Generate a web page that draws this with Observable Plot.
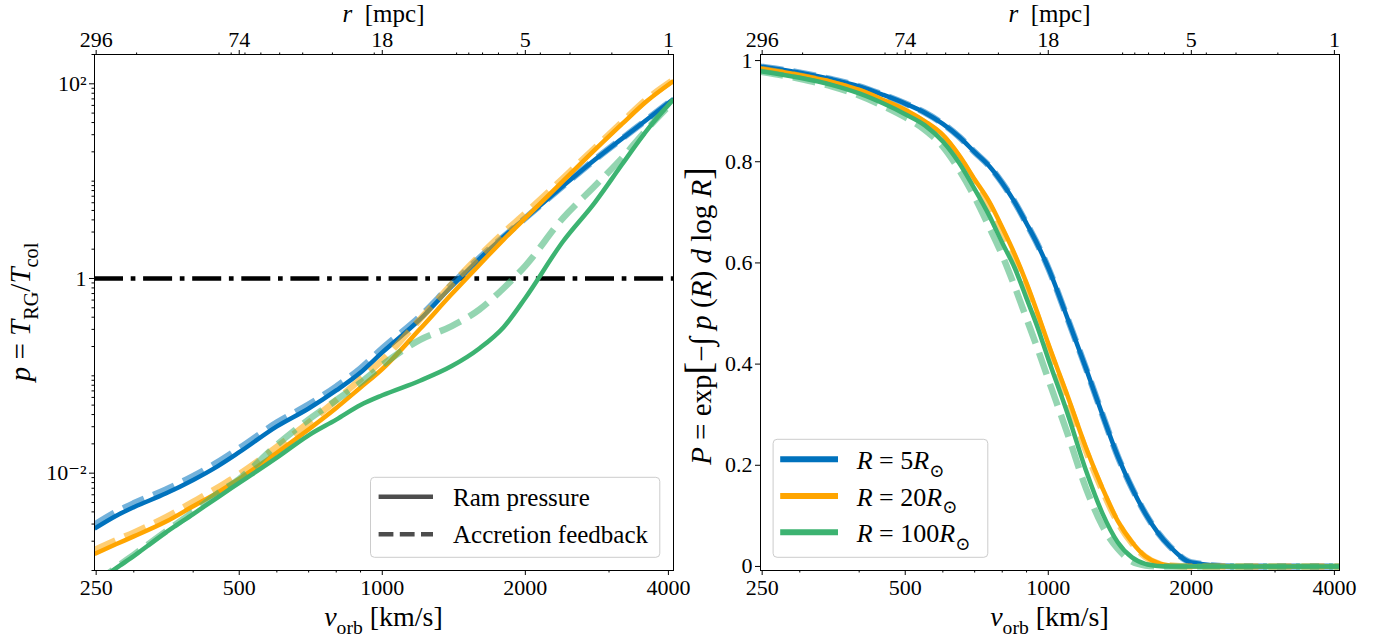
<!DOCTYPE html>
<html><head><meta charset="utf-8">
<script src="https://cdn.jsdelivr.net/npm/d3@7"></script>
<script src="https://cdn.jsdelivr.net/npm/@observablehq/plot@0.6"></script>
<style>
body{margin:0;background:#fff;}
#wrap{position:relative;width:1387px;height:637px;overflow:hidden;background:#fff;}
#wrap svg{position:absolute;top:0;}
#wrap svg text{font-family:'Liberation Serif','DejaVu Serif',serif;}
</style></head><body><div id="wrap"></div>
<script>
// ---------- data ----------
// orbital velocity grid (km/s) for the left panel
const vLeft = [248, 275, 300, 350, 400, 450, 500, 600, 700, 800, 900, 1000, 1200, 1400, 1600, 1800, 2000, 2400, 2800, 3200, 3600, 4100];
// p = T_RG / T_col, ram pressure (solid) and accretion feedback (dashed)
const pBlueRam   = [2.69e-3, 3.63e-3, 4.47e-3, 6.17e-3, 8.51e-3, 0.01175, 0.0164, 0.0302, 0.0462, 0.0708, 0.108, 0.174, 0.380, 0.832, 1.585, 2.69, 4.17, 8.91, 16.6, 27.5, 42.7, 70.0];
const pBlueAcc   = [2.95e-3, 3.98e-3, 4.90e-3, 6.76e-3, 9.33e-3, 0.0129, 0.0180, 0.0331, 0.0507, 0.0776, 0.119, 0.191, 0.407, 0.871, 1.62, 2.69, 4.17, 8.91, 16.6, 27.5, 42.7, 70.0];
const pOrangeRam = [1.48e-3, 1.86e-3, 2.24e-3, 3.16e-3, 4.57e-3, 6.31e-3, 8.71e-3, 0.0162, 0.0282, 0.0468, 0.0759, 0.1175, 0.302, 0.692, 1.38, 2.51, 4.17, 10.0, 20.9, 38.9, 66.1, 107];
const pOrangeAcc = [1.62e-3, 2.04e-3, 2.45e-3, 3.51e-3, 5.07e-3, 7.08e-3, 9.77e-3, 0.0186, 0.0331, 0.0562, 0.0923, 0.145, 0.380, 0.871, 1.70, 2.95, 4.68, 10.7, 21.9, 40.7, 69.2, 110];
const pGreenRam  = [7.24e-4, 1.05e-3, 1.41e-3, 2.45e-3, 3.80e-3, 5.62e-3, 7.94e-3, 0.01445, 0.0245, 0.0355, 0.0501, 0.0631, 0.0891, 0.126, 0.191, 0.316, 0.631, 2.40, 6.03, 15.0, 33.1, 69.2];
const pGreenAcc  = [7.24e-4, 1.07e-3, 1.45e-3, 2.51e-3, 3.98e-3, 6.17e-3, 8.71e-3, 0.0195, 0.0355, 0.0562, 0.0851, 0.129, 0.234, 0.324, 0.479, 0.794, 1.35, 4.17, 8.91, 17.4, 33.9, 66.1];

// velocity grid for the right panel
const vRight = [248, 300, 350, 400, 450, 500, 550, 600, 650, 700, 750, 800, 850, 900, 950, 1000, 1100, 1200, 1300, 1400, 1500, 1600, 1700, 1800, 2000, 2500, 3000, 4100];
// survival probability P
const PBlueRam   = [0.988, 0.976, 0.963, 0.949, 0.932, 0.915, 0.897, 0.875, 0.849, 0.819, 0.792, 0.758, 0.72, 0.678, 0.636, 0.59, 0.488, 0.392, 0.30, 0.218, 0.155, 0.105, 0.067, 0.040, 0.008, 0, 0, 0];
const PBlueAcc   = [0.988, 0.976, 0.963, 0.949, 0.932, 0.915, 0.897, 0.875, 0.849, 0.819, 0.792, 0.758, 0.72, 0.678, 0.636, 0.59, 0.488, 0.392, 0.30, 0.218, 0.155, 0.105, 0.067, 0.040, 0.008, 0, 0, 0];
const POrangeRam = [0.984, 0.971, 0.958, 0.942, 0.922, 0.903, 0.88, 0.853, 0.812, 0.765, 0.722, 0.67, 0.617, 0.56, 0.50, 0.44, 0.335, 0.235, 0.155, 0.09, 0.048, 0.02, 0.007, 0.002, 0, 0, 0, 0];
const POrangeAcc = [0.983, 0.97, 0.956, 0.94, 0.92, 0.9, 0.877, 0.85, 0.808, 0.76, 0.716, 0.664, 0.61, 0.553, 0.493, 0.433, 0.328, 0.229, 0.15, 0.087, 0.046, 0.019, 0.006, 0.002, 0, 0, 0, 0];
const PGreenRam  = [0.979, 0.966, 0.952, 0.935, 0.915, 0.894, 0.872, 0.84, 0.797, 0.746, 0.695, 0.64, 0.59, 0.53, 0.472, 0.41, 0.30, 0.19, 0.105, 0.048, 0.018, 0.005, 0.001, 0, 0, 0, 0, 0];
const PGreenAcc  = [0.978, 0.964, 0.949, 0.931, 0.91, 0.888, 0.863, 0.83, 0.783, 0.73, 0.672, 0.615, 0.553, 0.49, 0.43, 0.37, 0.26, 0.155, 0.08, 0.035, 0.01, 0.002, 0, 0, 0, 0, 0, 0];

// axis ticks
const vMajor = [250, 500, 1000, 2000, 4000];
const vMinor = [300, 400, 600, 700, 800, 900, 3000];
const rLabels = ["296", "74", "18", "5", "1"];           // r [mpc] at the major velocity ticks
const rMinor = [200, 90, 80, 70, 60, 50, 40, 30, 20, 9, 8, 7, 6, 5, 4, 3, 2];
const rRef = 296, vRef = 250;                             // r = rRef (vRef/v)^2
const pMajor = [1e-2, 1, 1e2];
const pMajorLabels = ["10⁻²", "1", "10²"];
const pMinorMant = [1, 2, 3, 4, 5, 6, 7, 8, 9];
const pMinorExp = [-3, -2, -1, 0, 1, 2];
const PTicks = [0, 0.2, 0.4, 0.6, 0.8, 1];
const radiusLabels = ["5", "20", "100"];
const mechLabels = ["Ram pressure", "Accretion feedback"];

// ---------- style ----------
const FONT = "'Liberation Serif', 'DejaVu Serif', serif";
const COLORS = ["#0072BD", "#FFA500", "#3CB371"];
const SOLID_W = 4.5, DASH_W = 6.5, DASH_OP = 0.55, DASH = "23,10";

const rows = (vs, ys) => vs.map((v, i) => ({v, y: ys[i]}));
const vOfR = r => vRef * Math.sqrt(rRef / r);
const pMinor = pMinorExp.flatMap(e => pMinorMant.map(m => m * Math.pow(10, e)))
  .filter(d => d <= 200 && !pMajor.some(M => Math.abs(M - d) / M < 1e-9));
const rLabelOf = new Map(vMajor.map((v, i) => [v, rLabels[i]]));
const pLabelOf = new Map(pMajor.map((p, i) => [p, pMajorLabels[i]]));

function seriesMarks(vs, ramArr, accArr, clip) {
  const marks = [];
  ramArr.forEach((ram, k) => {
    marks.push(Plot.line(rows(vs, ram), {x: "v", y: "y", stroke: COLORS[k], strokeWidth: SOLID_W, curve: "monotone-x", clip, strokeLinecap: "butt"}));
    marks.push(Plot.line(rows(vs, accArr[k]), {x: "v", y: "y", stroke: COLORS[k], strokeWidth: DASH_W, strokeOpacity: DASH_OP, strokeDasharray: DASH, curve: "monotone-x", clip, strokeLinecap: "butt"}));
  });
  return marks;
}

function xAxes() {
  return [
    Plot.axisX({ticks: vMajor, tickFormat: d => String(d), tickSize: 5, tickPadding: 4, label: null}),
    Plot.axisX({ticks: vMinor, tickFormat: () => "", tickSize: 2.5, label: null}),
    Plot.axisX({anchor: "top", ticks: vMajor, tickFormat: d => rLabelOf.get(d), tickSize: 5, tickPadding: 3, label: null}),
    Plot.axisX({anchor: "top", ticks: rMinor.map(vOfR), tickFormat: () => "", tickSize: 2.5, label: null})
  ];
}

const baseStyle = {fontFamily: FONT, fontSize: "22px", background: "transparent", color: "black", overflow: "visible"};

const leftPlot = Plot.plot({
  width: 693, height: 637,
  marginLeft: 94, marginRight: 20, marginTop: 54, marginBottom: 67,
  style: baseStyle,
  x: {type: "log", domain: [248, 4100]},
  y: {type: "log", domain: [1e-3, 200]},
  marks: [
    Plot.ruleY([1], {stroke: "black", strokeWidth: 4.7, strokeDasharray: "29,7.7,4.7,7.7"}),
    ...seriesMarks(vLeft, [pBlueRam, pOrangeRam, pGreenRam], [pBlueAcc, pOrangeAcc, pGreenAcc], true),
    Plot.frame({stroke: "black", strokeWidth: 1}),
    ...xAxes(),
    Plot.axisY({ticks: pMajor, tickFormat: d => pLabelOf.get(d), tickSize: 5, tickPadding: 3, label: null}),
    Plot.axisY({ticks: pMinor, tickFormat: () => "", tickSize: 2.5, label: null})
  ]
});

const rightPlot = Plot.plot({
  width: 697, height: 637,
  marginLeft: 70, marginRight: 48, marginTop: 54, marginBottom: 67,
  style: baseStyle,
  x: {type: "log", domain: [248, 4100]},
  y: {domain: [-0.008, 1.012]},
  marks: [
    ...seriesMarks(vRight, [PBlueRam, POrangeRam, PGreenRam], [PBlueAcc, POrangeAcc, PGreenAcc], false),
    Plot.frame({stroke: "black", strokeWidth: 1}),
    ...xAxes(),
    Plot.axisY({ticks: PTicks, tickFormat: d => String(d), tickSize: 5, tickPadding: 3, label: null})
  ]
});

const wrap = document.getElementById("wrap");
leftPlot.style.left = "0px";
rightPlot.style.left = "690px";
wrap.appendChild(leftPlot);
wrap.appendChild(rightPlot);

// ---------- rich text helper ----------
function richText(svg, x, y, parts, {size = 28, anchor = "middle", rotate = 0} = {}) {
  const t = d3.select(svg).append("text")
    .attr("x", x).attr("y", y)
    .attr("font-family", FONT).attr("font-size", size)
    .attr("text-anchor", anchor).attr("fill", "black")
    .style("white-space", "pre");
  if (rotate) t.attr("transform", `rotate(${rotate},${x},${y})`);
  let shift = 0;
  for (const p of parts) {
    const [s, o] = Array.isArray(p) ? p : [p, {}];
    const ts = t.append("tspan").text(s);
    const target = o.sub ? size * 0.28 : 0;
    if (target - shift) ts.attr("dy", target - shift);
    shift = target;
    if (o.sub) ts.attr("font-size", size * 0.7);
    if (o.it) ts.attr("font-style", "italic");
    if (o.size) ts.attr("font-size", o.size);
  }
  return t;
}

// axis titles
for (const [svg, cx] of [[leftPlot, 383.5], [rightPlot, 359.5]]) {
  richText(svg, cx, 626, [["v", {it: 1}], ["orb", {sub: 1}], " [km/s]"], {size: 28});
  richText(svg, cx, 22, [["r", {it: 1}], "  [mpc]"], {size: 25});
}
richText(leftPlot, 30, 312, [["p", {it: 1}], " = ", ["T", {it: 1}], ["RG", {sub: 1}], "/", ["T", {it: 1}], ["col", {sub: 1}]], {size: 29, rotate: -90});
richText(rightPlot, 21, 316, [["P", {it: 1}], " = exp", ["[", {size: 38}], "−", ["∫", {size: 31}], " ", ["p", {it: 1}], " (", ["R", {it: 1}], ") ", ["d", {it: 1}], " log ", ["R", {it: 1}], ["]", {size: 38}]], {size: 29, rotate: -90});

// left legend (line styles)
{
  const g = d3.select(leftPlot).append("g");
  g.append("rect").attr("x", 370.5).attr("y", 477.3).attr("width", 289.3).attr("height", 80)
    .attr("rx", 4).attr("fill", "white").attr("fill-opacity", 0.8).attr("stroke", "#cccccc");
  const ys = [496.7, 534.3];
  mechLabels.forEach((lab, i) => {
    g.append("line").attr("x1", 378.6).attr("x2", 433).attr("y1", ys[i]).attr("y2", ys[i])
      .attr("stroke", "#4d4d4d").attr("stroke-width", 4.5)
      .attr("stroke-dasharray", i ? "14.8,6.4" : null);
    g.append("text").attr("x", 453).attr("y", ys[i] + 9).attr("text-anchor", "start")
      .attr("font-family", FONT).attr("font-size", 25).text(lab);
  });
}
// right legend (radii)
{
  const g = d3.select(rightPlot).append("g");
  const ox = -690;
  g.append("rect").attr("x", 773.1 + ox).attr("y", 439.3).attr("width", 214.7).attr("height", 118)
    .attr("rx", 4).attr("fill", "white").attr("fill-opacity", 0.8).attr("stroke", "#cccccc");
  const ys = [459.3, 496, 532.3];
  radiusLabels.forEach((lab, i) => {
    g.append("line").attr("x1", 780.2 + ox).attr("x2", 838 + ox).attr("y1", ys[i]).attr("y2", ys[i])
      .attr("stroke", COLORS[i]).attr("stroke-width", 6);
    richText(rightPlot, 856.7 + ox, ys[i] + 10, [["R", {it: 1}], " = " + lab, ["R", {it: 1}], ["⊙", {sub: 1}]], {size: 26, anchor: "start"});
  });
}
// force serif on every text (axis tick labels included)
d3.selectAll("#wrap svg text").attr("font-family", FONT);
</script>
</body></html>
